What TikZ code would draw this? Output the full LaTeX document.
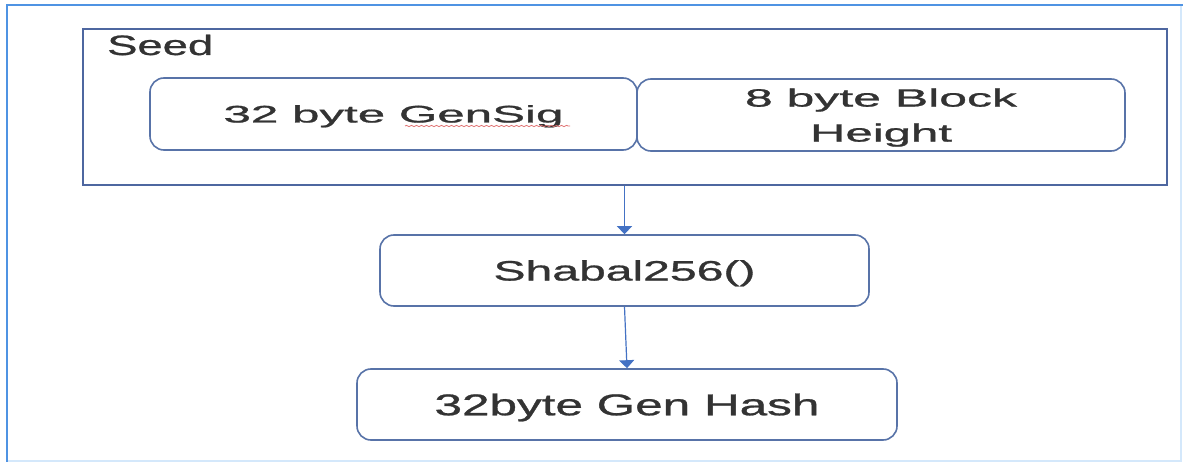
\documentclass[tikz,border=0pt]{standalone}
\usepackage{fontspec}
\setmainfont{Liberation Sans}[FakeBold=0.8]
\usepackage{graphicx}
\usetikzlibrary{arrows.meta,decorations.pathmorphing}
\definecolor{framec}{HTML}{4F93E3}
\definecolor{framefaint}{HTML}{D4E8FB}
\definecolor{boxc}{HTML}{5873A8}
\definecolor{seedc}{HTML}{4E67A0}
\definecolor{arrowc}{HTML}{4472C4}
\definecolor{ink}{HTML}{333333}
\definecolor{squig}{HTML}{E07070}
% text stretched to a given width, natural height kept
\newcommand{\wtext}[2]{\resizebox{#1pt}{\height}{#2}}
\newcommand{\fsz}[1]{\fontsize{#1pt}{35pt}\selectfont}
\begin{document}
\begin{tikzpicture}[x=1pt,y=-1pt,
  rbox/.style={draw=boxc, line width=1.6pt, rounded corners=14pt, rectangle,
    inner sep=0pt, text=ink},
  seedbox/.style={draw=seedc, line width=2pt, rectangle, inner sep=0pt},
  lbl/.style={text=ink, inner sep=0pt},
  conn/.style={draw=arrowc, line width=1.2pt,
    -{Triangle[length=8pt,width=15pt]}}]
\useasboundingbox (0,0) rectangle (1183,462);
\fill[white] (0,0) rectangle (1183,462);

% outer frame
\draw[framefaint, line width=2pt] (7,461) -- (1181,461) -- (1181,5);
\draw[framec, line width=2.6pt] (7,462) -- (7,5) -- (1183,5);

% seed container
\node[seedbox, minimum width=1084pt, minimum height=156pt] (seed) at (624.5,107) {};
\node[lbl, font=\fsz{28}, anchor=base west] (seedlbl) at (107,55) {\wtext{106}{Seed}};

% seed parts
\node[rbox, minimum width=487pt, minimum height=72pt, font=\fsz{24},
  text height=17pt, text depth=0pt] (gensig) at (393.5,114)
  {\wtext{340}{32 byte GenSig}};
\node[rbox, minimum width=488pt, minimum height=72pt, font=\fsz{25},
  align=center, text depth=0pt] (height) at (881,115)
  {\wtext{272}{8 byte Block}\\\wtext{142}{Height}};
\draw[squig, line width=0.8pt, decorate,
  decoration={snake, amplitude=0.6pt, segment length=5pt}] (405,126) -- (570,126);

% hashing steps
\node[rbox, minimum width=489pt, minimum height=71pt, font=\fsz{28},
  text height=20pt, text depth=0pt] (shabal) at (624.5,270.5)
  {\wtext{262}{Shabal256()}};
\node[rbox, minimum width=540pt, minimum height=71pt, font=\fsz{30},
  text height=21.5pt, text depth=0pt] (hash) at (627,404.5)
  {\wtext{385}{32byte Gen Hash}};

% connectors
\draw[conn] (seed.south) -- (shabal.north);
\draw[conn] (shabal.south) -- (hash.north);
\end{tikzpicture}
\end{document}
